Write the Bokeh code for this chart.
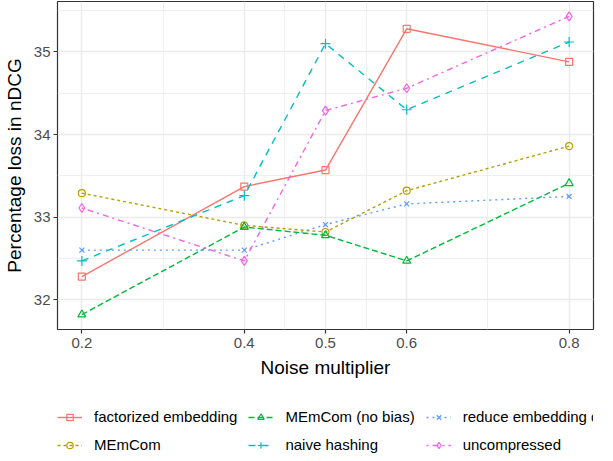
from bokeh.plotting import figure
from bokeh.layouts import column
from bokeh.models import FixedTicker, Legend, LegendItem
from bokeh.embed import file_html
from bokeh.resources import INLINE

# ---- data ----
noise = [0.2, 0.4, 0.5, 0.6, 0.8]
factorized = [32.28, 33.37, 33.57, 35.28, 34.88]
memcom = [33.29, 32.90, 32.82, 33.32, 33.86]
memcom_nobias = [31.82, 32.88, 32.78, 32.47, 33.41]
naive_hashing = [32.47, 33.26, 35.10, 34.30, 35.12]
reduce_dim = [32.60, 32.60, 32.91, 33.16, 33.25]
uncompressed = [33.11, 32.47, 34.29, 34.56, 35.43]

series_labels = ["factorized embedding", "MEmCom", "MEmCom (no bias)",
                 "naive hashing", "reduce embedding dim", "uncompressed"]
series_values = [factorized, memcom, memcom_nobias, naive_hashing, reduce_dim, uncompressed]
y_ticks = [32, 33, 34, 35]
y_minor = [31.5, 32.5, 33.5, 34.5, 35.5]
x_minor = [0.3, 0.45, 0.55, 0.7]

# ---- styles ----
colors = ["#F8766D", "#B79F00", "#00BA38", "#00BFC4", "#619CFF", "#F564E3"]
dashes = ["solid", "3 3", "6 3", "7 6", "2 4", "2 4 6 4"]
markers = ["square", "circle", "triangle", "cross", "x", "diamond"]
msizes = [7, 7, 8, 10, 7, 9]
FONT = "Liberation Sans"

allv = [v for s in series_values for v in s]
ymin, ymax = min(allv), max(allv)
yr = ymax - ymin
xmin, xmax = min(noise), max(noise)
xr = xmax - xmin

p = figure(width=597, height=384, output_backend="svg", toolbar_location=None,
           x_range=(xmin - 0.05 * xr, xmax + 0.05 * xr),
           y_range=(ymin - 0.05 * yr, ymax + 0.05 * yr),
           min_border_left=49, min_border_right=4, min_border_top=1, min_border_bottom=55)
p.background_fill_color = "white"
p.border_fill_color = "white"
p.outline_line_color = "#333333"
p.outline_line_width = 1.2

p.xaxis.ticker = FixedTicker(ticks=noise, minor_ticks=x_minor)
p.yaxis.ticker = FixedTicker(ticks=y_ticks, minor_ticks=y_minor)
p.xaxis.axis_label = "Noise multiplier"
p.yaxis.axis_label = "Percentage loss in nDCG"

for ax in [p.xaxis[0], p.yaxis[0]]:
    ax.axis_line_color = None
    ax.major_tick_line_color = "#333333"
    ax.major_tick_line_width = 1.2
    ax.major_tick_out = 4
    ax.major_tick_in = 0
    ax.minor_tick_line_color = None
    ax.major_label_text_font = FONT
    ax.major_label_text_font_size = "15px"
    ax.major_label_text_color = "#4D4D4D"
    ax.axis_label_text_font = FONT
    ax.axis_label_text_font_size = "19px"
    ax.axis_label_text_font_style = "normal"
    ax.axis_label_text_color = "#000000"
p.xaxis.major_label_standoff = 4
p.xaxis.axis_label_standoff = 6
p.yaxis.major_label_standoff = 3
p.yaxis.axis_label_standoff = 6

for g in [p.xgrid[0], p.ygrid[0]]:
    g.grid_line_color = "#EBEBEB"
    g.grid_line_width = 1.4
    g.minor_grid_line_color = "#EBEBEB"
    g.minor_grid_line_width = 0.8

for lab, vals, c, d, m, s in zip(series_labels, series_values, colors, dashes, markers, msizes):
    p.line(noise, vals, line_color=c, line_dash=d, line_width=1.4)
    p.scatter(noise, vals, marker=m, size=s, line_color=c, fill_color=None, line_width=1.2)

# ---- legend strip below the plot; its own renderers hold the same series
# but lie outside its (0..1) view, so only the legend swatches show ----
lg = figure(width=597, height=69, output_backend="svg", toolbar_location=None,
            x_axis_type=None, y_axis_type=None, x_range=(0, 1), y_range=(0, 1),
            min_border=0, min_border_left=0, min_border_right=0,
            min_border_top=0, min_border_bottom=0)
lg.outline_line_color = None
lg.xgrid.visible = False
lg.ygrid.visible = False
lg.border_fill_color = "white"
lg.background_fill_color = "white"

items = []
for lab, vals, c, d, m, s in zip(series_labels, series_values, colors, dashes, markers, msizes):
    lr = lg.line(noise, vals, line_color=c, line_dash=d, line_width=1.4)
    sr = lg.scatter(noise, vals, marker=m, size=s, line_color=c, fill_color=None, line_width=1.2)
    items.append(LegendItem(label=lab, renderers=[lr, sr]))

legend = Legend(items=items, location=(0, 0), orientation="vertical", nrows=2,
                border_line_color=None, background_fill_alpha=0,
                padding=0, margin=0, spacing=11, label_standoff=12,
                glyph_width=25, glyph_height=16,
                label_text_font=FONT, label_text_font_size="15px",
                label_text_color="#000000")
lg.add_layout(legend, "center")

layout = column(p, lg, spacing=0)
open("out.html", "w").write(file_html(layout, INLINE))
